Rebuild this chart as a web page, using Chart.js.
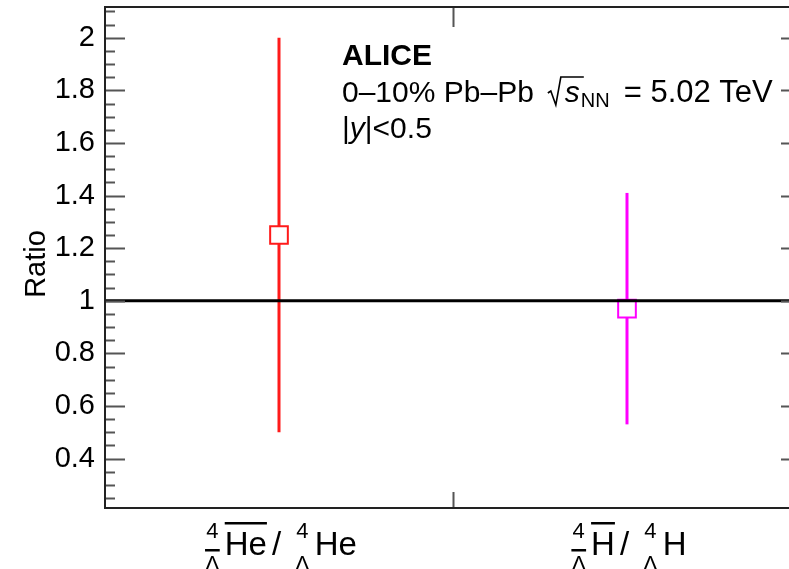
<!DOCTYPE html>
<html>
<head>
<meta charset="utf-8">
<script src="https://cdn.jsdelivr.net/npm/chart.js@4.4.0/dist/chart.umd.min.js"></script>
<style>
  html, body { margin: 0; padding: 0; background: #fff; overflow: hidden; }
  #wrap { width: 789px; height: 569px; overflow: hidden; }
</style>
</head>
<body>
<div id="wrap"><canvas id="ratioChart" width="810" height="569"></canvas></div>
<script>
// antihypernucleus / hypernucleus yield ratios
const nuclei = ['He', 'H'];
const xPositions = [0.5, 1.5];
const ratios = [1.25, 0.97];
const ratioErrors = [0.75, 0.44];
const yTicks = [0.4, 0.6, 0.8, 1, 1.2, 1.4, 1.6, 1.8, 2];
const yMinorStep = 0.05;
const yRange = [0.212, 2.117];
const xRange = [0, 2];
const referenceLevel = 1;

const colors = ['#ff1a1a', '#ff00ff'];
const FONT = '"Liberation Sans", Arial, Helvetica, sans-serif';

// vertical error bars, drawn under the markers
const errorBars = {
  id: 'errorBars',
  beforeDatasetsDraw(chart) {
    const { ctx, scales: { x, y } } = chart;
    ctx.save();
    ctx.lineWidth = 3;
    ratios.forEach((r, i) => {
      const px = x.getPixelForValue(xPositions[i]);
      ctx.strokeStyle = colors[i];
      ctx.beginPath();
      ctx.moveTo(px, y.getPixelForValue(r - ratioErrors[i]));
      ctx.lineTo(px, y.getPixelForValue(r + ratioErrors[i]));
      ctx.stroke();
    });
    ctx.restore();
  }
};

function drawStack(ctx, x, by, w, anti) {
  ctx.font = '22px ' + FONT;
  ctx.textAlign = 'center';
  ctx.fillText('4', x + w / 2, by - 17);
  ctx.fillText('Λ', x + w / 2, by + 16);
  if (anti) ctx.fillRect(x, by - 6, w, 2.5);
  ctx.textAlign = 'left';
}

function drawPairLabel(ctx, cx, by, nucleus) {
  ctx.font = '22px ' + FONT;
  const wStack = ctx.measureText('Λ').width;
  ctx.font = '33px ' + FONT;
  const wMain = ctx.measureText(nucleus).width;
  const wSlash = ctx.measureText('/').width;
  const total = 2 * (wStack + 5 + wMain) + 5 + wSlash + 14;
  let x = cx - total / 2 + 2;
  drawStack(ctx, x, by, wStack, true);
  x += wStack + 5;
  ctx.font = '33px ' + FONT;
  ctx.fillText(nucleus, x, by);
  ctx.fillRect(x, by - 33, wMain, 2.5);
  x += wMain + 5;
  ctx.fillText('/', x, by);
  x += wSlash + 14;
  drawStack(ctx, x, by, wStack, false);
  x += wStack + 5;
  ctx.font = '33px ' + FONT;
  ctx.fillText(nucleus, x, by);
}

// frame, inward ticks, category labels, axis title and the header text
const rootFrame = {
  id: 'rootFrame',
  afterDraw(chart) {
    const { ctx, chartArea: a, scales: { x, y } } = chart;
    ctx.save();
    ctx.strokeStyle = '#555';
    ctx.lineWidth = 2;
    for (let k = Math.ceil(yRange[0] / yMinorStep); k * yMinorStep <= yRange[1]; k++) {
      const v = k * yMinorStep;
      const major = yTicks.some(t => Math.abs(t - v) < 1e-6);
      const py = Math.round(y.getPixelForValue(v)) + 0.5;
      const len = major ? 20 : 10;
      ctx.beginPath();
      ctx.moveTo(a.left, py); ctx.lineTo(a.left + len, py);
      if (major) { ctx.moveTo(a.right, py); ctx.lineTo(a.right - len, py); }
      ctx.stroke();
    }
    for (let v = xRange[0] + 1; v < xRange[1]; v++) {
      const px = Math.round(x.getPixelForValue(v)) + 0.5;
      ctx.beginPath();
      ctx.moveTo(px, a.bottom); ctx.lineTo(px, a.bottom - 16);
      ctx.moveTo(px, a.top); ctx.lineTo(px, a.top + 20);
      ctx.stroke();
    }
    ctx.strokeStyle = '#222';
    ctx.strokeRect(a.left, a.top, a.right - a.left, a.bottom - a.top);

    ctx.fillStyle = '#000';
    ctx.textBaseline = 'alphabetic';
    nuclei.forEach((n, i) => drawPairLabel(ctx, x.getPixelForValue(xPositions[i]), 555, n));

    // y axis title
    ctx.save();
    ctx.translate(37, 264);
    ctx.rotate(-Math.PI / 2);
    ctx.font = '29px ' + FONT;
    ctx.textAlign = 'center';
    ctx.textBaseline = 'middle';
    ctx.fillText('Ratio', 0, 0);
    ctx.restore();

    // header
    let tx = 342;
    ctx.font = 'bold 30px ' + FONT;
    ctx.fillText('ALICE', tx, 65);
    ctx.font = '30px ' + FONT;
    const by = 102;
    ctx.fillText('0–10% Pb–Pb', tx, by);
    tx += ctx.measureText('0–10% Pb–Pb').width + 14;
    ctx.font = 'italic 30px ' + FONT;
    const wS = ctx.measureText('s').width;
    ctx.lineWidth = 1.6;
    ctx.strokeStyle = '#000';
    ctx.beginPath();
    ctx.moveTo(tx, by - 9);
    ctx.lineTo(tx + 3, by - 11);
    ctx.lineTo(tx + 8, by + 3);
    ctx.lineTo(tx + 13, by - 25);
    ctx.lineTo(tx + 17 + wS + 4, by - 25);
    ctx.stroke();
    tx += 17;
    ctx.fillText('s', tx, by);
    tx += wS + 1;
    ctx.font = '20px ' + FONT;
    ctx.fillText('NN', tx, by + 5);
    tx += ctx.measureText('NN').width + 14;
    ctx.font = '31px ' + FONT;
    ctx.fillText('= 5.02 TeV', tx, by);
    tx = 342;
    ctx.font = '30px ' + FONT;
    ctx.fillText('|', tx, 138);
    tx += ctx.measureText('|').width;
    ctx.font = 'italic 30px ' + FONT;
    ctx.fillText('y', tx, 138);
    tx += ctx.measureText('y').width;
    ctx.font = '30px ' + FONT;
    ctx.fillText('|<0.5', tx, 138);
    ctx.restore();
  }
};

const pointSets = nuclei.map((n, i) => ({
  type: 'scatter',
  label: n,
  data: [{ x: xPositions[i], y: ratios[i] }],
  pointStyle: 'rect',
  pointRadius: 12.5,
  pointBorderWidth: 2,
  pointBorderColor: colors[i],
  pointBackgroundColor: '#fff',
  order: 2
}));

const noPadding = s => { s.paddingLeft = s.paddingRight = s.paddingTop = s.paddingBottom = 0; };

new Chart(document.getElementById('ratioChart'), {
  type: 'scatter',
  data: {
    datasets: [
      {
        type: 'line',
        label: 'unity',
        data: [{ x: xRange[0], y: referenceLevel }, { x: xRange[1], y: referenceLevel }],
        borderColor: '#000',
        borderWidth: 3,
        pointRadius: 0,
        order: 1
      },
      ...pointSets
    ]
  },
  options: {
    responsive: false,
    animation: false,
    devicePixelRatio: 1,
    layout: { autoPadding: false, padding: { top: 7, right: 9, left: 0, bottom: 0 } },
    plugins: { legend: { display: false }, tooltip: { enabled: false } },
    scales: {
      x: {
        type: 'linear',
        min: xRange[0],
        max: xRange[1],
        grid: { display: false, drawTicks: false },
        border: { display: false },
        ticks: { display: false },
        afterFit: s => { s.height = 61; noPadding(s); }
      },
      y: {
        min: yRange[0],
        max: yRange[1],
        afterBuildTicks: s => { s.ticks = yTicks.map(v => ({ value: v })); },
        afterFit: s => { s.width = 105; noPadding(s); },
        grid: { display: false, drawTicks: false },
        border: { display: false },
        ticks: {
          padding: 10,
          color: '#000',
          font: { family: FONT, size: 29 },
          callback: v => String(v)
        }
      }
    }
  },
  plugins: [errorBars, rootFrame]
});
</script>
</body>
</html>
